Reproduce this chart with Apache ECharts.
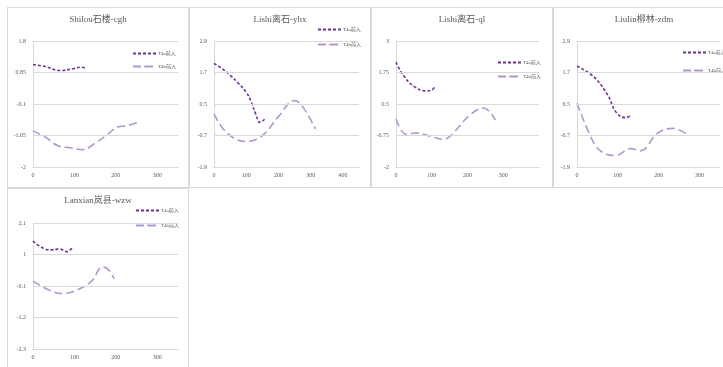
<!DOCTYPE html>
<html>
<head>
<meta charset="utf-8">
<script src="https://cdn.jsdelivr.net/npm/echarts@6/dist/echarts.min.js"></script>
<style>
  html, body { margin: 0; padding: 0; background: #fff; }
  body { width: 723px; height: 367px; position: relative; overflow: hidden; }
  .panel { position: absolute; width: 182px; height: 181px; border: 1px solid #d9d9d9; box-sizing: border-box; background: #fff; }
</style>
</head>
<body>
<div class="panel" id="p0" style="left:7px;top:7px"></div>
<div class="panel" id="p1" style="left:189px;top:7px"></div>
<div class="panel" id="p2" style="left:371px;top:7px"></div>
<div class="panel" id="p3" style="left:553px;top:7px"></div>
<div class="panel" id="p4" style="left:7px;top:188px"></div>
<script>
// panel titles and legend names
const titles = ['Shilou石楼-cgh', 'Lishi离石-yhx', 'Lishi离石-ql', 'Liulin柳林-zdm', 'Lanxian岚县-wzw']
const seriesNames = ['T4a前入', 'T4b前入']

// y tick labels per panel
const yTicks0 = [-2, -1.05, -0.1, 0.85, 1.8]
const yTicks1 = [-1.9, -0.7, 0.5, 1.7, 2.9]
const yTicks2 = [-2, -0.75, 0.5, 1.75, 3]
const yTicks3 = [-1.9, -0.7, 0.5, 1.7, 2.9]
const yTicks4 = [-2.3, -1.2, -0.1, 1, 2.1]
const xMax = [350, 450, 400, 350, 350]

// series values [x, y]
const shilouA = [[0, 1.09], [30, 1.03], [65, 0.91], [100, 0.97], [115, 1.01], [125, 0.99]]
const shilouB = [[0, -0.91], [30, -1.1], [60, -1.36], [90, -1.42], [120, -1.48], [150, -1.28], [180, -1.02], [205, -0.79], [225, -0.76], [255, -0.65]]
const lishiYhxA = [[0, 2.05], [25, 1.85], [50, 1.6], [75, 1.3], [100, 0.95], [115, 0.6], [130, 0.1], [142, -0.2], [150, -0.15], [157, -0.08]]
const lishiYhxB = [[0, 0.13], [40, -0.6], [100, -0.93], [150, -0.7], [200, 0.02], [250, 0.63], [275, 0.4], [315, -0.45]]
const lishiQlA = [[0, 2.16], [20, 1.65], [50, 1.2], [85, 1.02], [100, 1.05], [107, 1.16]]
const lishiQlB = [[0, -0.09], [28, -0.7], [56, -0.65], [97, -0.78], [134, -0.9], [157, -0.7], [208, 0.08], [245, 0.34], [278, -0.14]]
const liulinA = [[0, 1.94], [40, 1.55], [75, 0.85], [95, 0.2], [118, -0.02], [131, 0.04]]
const liulinB = [[0, 0.53], [40, -0.95], [62, -1.34], [94, -1.46], [131, -1.2], [155, -1.28], [198, -0.6], [234, -0.43], [266, -0.62]]
const lanxianA = [[0, 1.47], [40, 1.16], [64, 1.19], [82, 1.1], [94, 1.22]]
const lanxianB = [[0, 0.07], [36, -0.22], [68, -0.36], [96, -0.3], [140, 0.05], [168, 0.56], [180, 0.5], [196, 0.15]]

const panels = [
    { ticks: yTicks0, a: shilouA, b: shilouB, grid: { left: 25, top: 33, right: 10, bottom: 20 }, legend: { left: 124, top: 43, gap: 8 } },
    { ticks: yTicks1, a: lishiYhxA, b: lishiYhxB, grid: { left: 24, top: 33, right: 11, bottom: 20 }, legend: { left: 127, top: 19, gap: 10 } },
    { ticks: yTicks2, a: lishiQlA, b: lishiQlB, grid: { left: 24, top: 33, right: 13, bottom: 20 }, legend: { left: 125, top: 52, gap: 9 } },
    { ticks: yTicks3, a: liulinA, b: liulinB, grid: { left: 23, top: 33, right: 14, bottom: 20 }, legend: { left: 128, top: 42, gap: 13 } },
    { ticks: yTicks4, a: lanxianA, b: lanxianB, grid: { left: 25, top: 34, right: 10, bottom: 19 }, legend: { left: 127, top: 19, gap: 10 } },
]

const font = '"Liberation Serif", "Noto Sans CJK SC", serif'

panels.forEach((p, i) => {
    const chart = echarts.init(document.getElementById('p' + i), null, { renderer: 'canvas' })
    chart.setOption({
        animation: false,
        title: {
            text: titles[i],
            left: 'center',
            top: 2,
            textStyle: { fontFamily: font, fontSize: 9, fontWeight: 'normal', color: '#595959' },
        },
        legend: {
            data: seriesNames,
            orient: 'vertical',
            left: p.legend.left,
            top: p.legend.top,
            padding: 0,
            itemWidth: 23,
            itemHeight: 2,
            itemGap: p.legend.gap,
            textStyle: { fontFamily: font, fontSize: 5, color: '#595959', padding: [0, 0, 0, -3] },
        },
        grid: p.grid,
        xAxis: {
            type: 'value',
            min: 0,
            max: xMax[i],
            interval: 100,
            axisLine: { show: true, onZero: false, lineStyle: { color: '#d9d9d9' } },
            axisTick: { show: false },
            splitLine: { show: false },
            axisLabel: { fontFamily: font, fontSize: 6, color: '#595959', margin: 5, showMaxLabel: false },
        },
        yAxis: {
            type: 'value',
            min: p.ticks[0],
            max: p.ticks[p.ticks.length - 1],
            axisLine: { show: true, onZero: false, lineStyle: { color: '#d9d9d9' } },
            axisTick: { show: false, customValues: p.ticks },
            axisLabel: { fontFamily: font, fontSize: 6, color: '#595959', margin: 7, customValues: p.ticks },
            splitLine: { show: false },
        },
        series: [
            {
                // horizontal gridlines at the tick values
                type: 'line',
                data: [],
                silent: true,
                z: 1,
                markLine: {
                    silent: true,
                    symbol: 'none',
                    label: { show: false },
                    lineStyle: { type: 'solid', color: '#d9d9d9', width: 1 },
                    data: p.ticks.slice(1).map(v => ({ yAxis: v })),
                },
            },
            {
                name: seriesNames[0],
                type: 'line',
                data: p.a,
                smooth: 0.4,
                showSymbol: false,
                symbol: 'none',
                z: 3,
                color: '#7030a0',
                lineStyle: { width: 1.6, type: [3, 2], color: '#7030a0' },
            },
            {
                name: seriesNames[1],
                type: 'line',
                data: p.b,
                smooth: 0.4,
                showSymbol: false,
                symbol: 'none',
                z: 3,
                color: '#b196d6',
                lineStyle: { width: 1.6, type: [8, 4], color: '#b196d6' },
            },
        ],
    })
})
</script>
</body>
</html>
